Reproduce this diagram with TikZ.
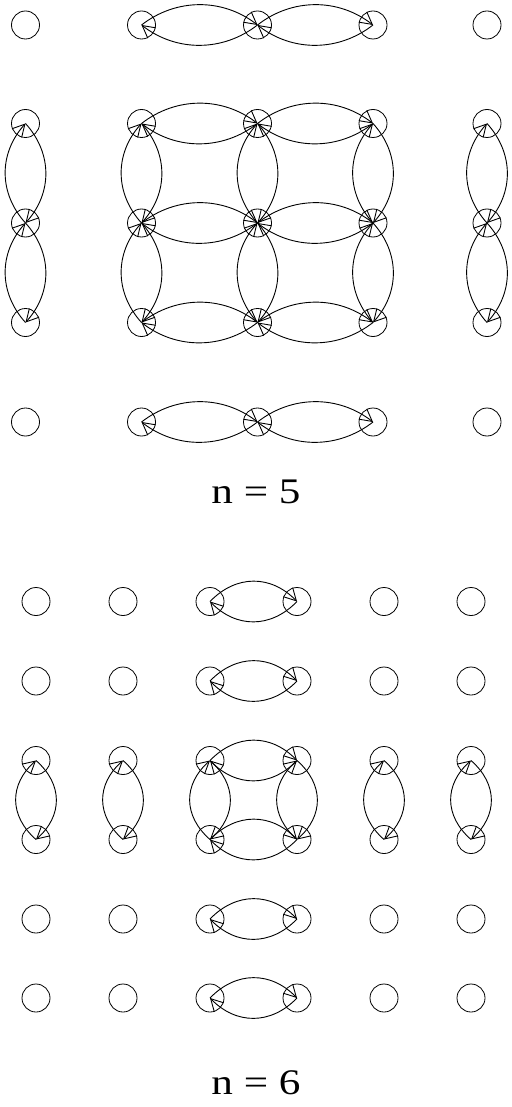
\documentclass[tikz,border=0pt]{standalone}
\usepackage{fontspec}
\setmainfont{Liberation Serif}
\usepackage{graphicx}
\usetikzlibrary{
  arrows.meta,
  calc
}
\definecolor{vertexcolor}{RGB}{0, 0, 0}
\definecolor{linkcolor}{RGB}{0, 0, 0}
\tikzset{
vertex/.style={
  draw=vertexcolor,
  circle,
  minimum size=28pt,
  inner sep=0pt,
  line width=0.8pt
},
link/.style={
  -{Straight Barb[length=12pt,width=13pt]},
  line width=0.9pt,
  draw=linkcolor,
  to path={.. controls ($(\tikztostart)!0.3!(\tikztotarget)!27pt!90:(\tikztotarget)$)
    and ($(\tikztotarget)!0.3!(\tikztostart)!27pt!-90:(\tikztostart)$) .. (\tikztotarget)}
},
caption/.style={
  font=\fontsize{36}{42}\selectfont,
  align=center
}
}

\begin{document}
\begin{tikzpicture}[x=1pt,y=-1pt]
  \useasboundingbox (0,0) rectangle (511,1107);

  % n = 5
  \foreach \y [count=\r] in {25,123.5,223,322.5,422}
    \foreach \x [count=\c] in {25.5,141.5,257.5,373,487}
      \node[vertex] (a\r\c) at (\x,\y) {};
  \foreach \r in {1,...,5}
    \foreach \c/\d in {2/3,3/4} {
      \draw[link] (a\r\c.center) to (a\r\d.center);
      \draw[link] (a\r\d.center) to (a\r\c.center);
    }
  \foreach \c in {1,...,5}
    \foreach \r/\s in {2/3,3/4} {
      \draw[link] (a\r\c.center) to (a\s\c.center);
      \draw[link] (a\s\c.center) to (a\r\c.center);
    }
  \node[caption] (cap5) at (256,492) {\scalebox{1.2}[1]{n = 5}};

  % n = 6
  \foreach \y [count=\r] in {601.5,681,760.5,839.5,919,998}
    \foreach \x [count=\c] in {36,123,210,297,384,471}
      \node[vertex] (b\r\c) at (\x,\y) {};
  \foreach \r in {1,...,6} {
    \draw[link] (b\r3.center) to (b\r4.center);
    \draw[link] (b\r4.center) to (b\r3.center);
  }
  \foreach \c in {1,...,6} {
    \draw[link] (b3\c.center) to (b4\c.center);
    \draw[link] (b4\c.center) to (b3\c.center);
  }
  \node[caption] (cap6) at (256,1083) {\scalebox{1.2}[1]{n = 6}};
\end{tikzpicture}
\end{document}
